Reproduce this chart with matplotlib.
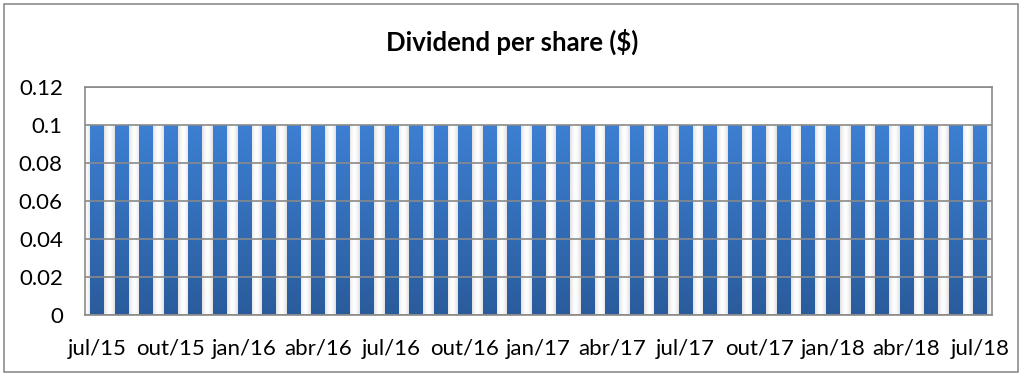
import matplotlib.pyplot as plt
import numpy as np
from matplotlib.patches import Rectangle

plt.rcParams['font.family'] = ['Lato', 'DejaVu Sans']

# monthly dividends jul/15 .. jul/18
months = ['jul/15', 'ago/15', 'set/15', 'out/15', 'nov/15', 'dez/15',
          'jan/16', 'fev/16', 'mar/16', 'abr/16', 'mai/16', 'jun/16',
          'jul/16', 'ago/16', 'set/16', 'out/16', 'nov/16', 'dez/16',
          'jan/17', 'fev/17', 'mar/17', 'abr/17', 'mai/17', 'jun/17',
          'jul/17', 'ago/17', 'set/17', 'out/17', 'nov/17', 'dez/17',
          'jan/18', 'fev/18', 'mar/18', 'abr/18', 'mai/18', 'jun/18',
          'jul/18']
dividend = [0.1] * 37

fig = plt.figure(figsize=(10.24, 3.8), dpi=100)
fig.patches.append(Rectangle((0.004, 0.02), 0.99, 0.97, transform=fig.transFigure,
                             fill=False, edgecolor='#8c8c8c', linewidth=1.2))
ax = fig.add_axes([0.083, 0.171, 0.886, 0.600])

x = np.arange(len(months))
width = 0.56

# light shadow in the gaps between bars (gray edges, white centre)
shade = np.abs(np.linspace(-1, 1, 64)) ** 1.5
shade = (1 - 0.12 * shade)[None, :]
shade_rgb = np.dstack([shade, shade, shade])
for xi, v in zip(x, dividend):
    for g0 in (xi - 1 + width / 2, xi + width / 2):
        ax.imshow(shade_rgb, extent=(g0, g0 + 1 - width, 0, v),
                  aspect='auto', zorder=0.5, origin='lower')

bars = ax.bar(x, dividend, width, color='none', edgecolor='none', zorder=2)

# vertical gradient on the blue bars
grad = np.linspace(0, 1, 100)[:, None]
top = np.array([0x3d, 0x7f, 0xd2]) / 255
bot = np.array([0x2a, 0x5c, 0x9c]) / 255
img = bot + (top - bot) * grad[..., None]
for b in bars:
    x0, y0 = b.get_x(), b.get_y()
    im = ax.imshow(img, extent=(x0, x0 + b.get_width(), y0, y0 + b.get_height()),
                   aspect='auto', origin='lower', zorder=2)
    im.set_clip_path(b)

ax.set_xlim(-0.5, len(months) - 0.5)
ax.set_ylim(0, 0.12)
ax.set_yticks(np.arange(0, 0.121, 0.02))
ax.set_yticklabels(['0', '0.02', '0.04', '0.06', '0.08', '0.1', '0.12'])
ax.set_xticks(x[::3])
ax.set_xticklabels(months[::3])
ax.tick_params(length=0, labelsize=16, colors='black')
ax.tick_params(axis='x', pad=17)
ax.tick_params(axis='y', pad=16)
ax.grid(axis='y', color='#8a8a8a', linewidth=1.2)
ax.set_axisbelow(False)
for s in ax.spines.values():
    s.set_color('#8a8a8a')
    s.set_linewidth(1.2)
    s.set_zorder(3)
for gl in ax.get_ygridlines():
    gl.set_zorder(1)

fig.text(0.5, 0.889, 'Dividend per share ($)', ha='center', va='center',
         fontsize=18.5, fontweight='bold')

plt.savefig('out.png')
